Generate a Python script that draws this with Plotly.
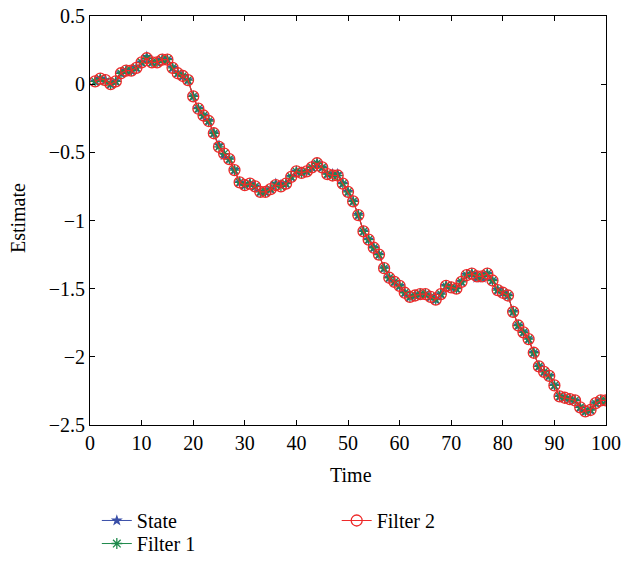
import plotly.graph_objects as go

time = list(range(1, 101))

state = [0.02, 0.04, 0.03, 0.00, 0.02, 0.08, 0.10, 0.10, 0.12, 0.16,
         0.20, 0.16, 0.16, 0.18, 0.18, 0.12, 0.08, 0.06, 0.03, -0.09,
         -0.18, -0.23, -0.27, -0.36, -0.45, -0.52, -0.55, -0.63, -0.72, -0.74,
         -0.73, -0.75, -0.79, -0.79, -0.77, -0.73, -0.74, -0.73, -0.68, -0.64,
         -0.65, -0.64, -0.61, -0.58, -0.61, -0.66, -0.66, -0.66, -0.73, -0.79,
         -0.86, -0.96, -1.08, -1.14, -1.20, -1.25, -1.35, -1.42, -1.45, -1.48,
         -1.53, -1.56, -1.55, -1.54, -1.54, -1.56, -1.58, -1.54, -1.48, -1.49,
         -1.50, -1.45, -1.40, -1.39, -1.42, -1.42, -1.39, -1.44, -1.51, -1.53,
         -1.55, -1.67, -1.77, -1.82, -1.87, -1.97, -2.07, -2.11, -2.14, -2.21,
         -2.29, -2.30, -2.31, -2.32, -2.37, -2.40, -2.39, -2.34, -2.32, -2.32]

filter1 = [0.02, 0.04, 0.02, 0.00, 0.02, 0.08, 0.10, 0.10, 0.12, 0.16,
           0.19, 0.16, 0.16, 0.18, 0.18, 0.12, 0.08, 0.06, 0.03, -0.09,
           -0.18, -0.23, -0.27, -0.36, -0.46, -0.51, -0.55, -0.63, -0.72, -0.74,
           -0.73, -0.75, -0.79, -0.79, -0.77, -0.74, -0.75, -0.73, -0.68, -0.64,
           -0.65, -0.64, -0.61, -0.58, -0.61, -0.66, -0.67, -0.67, -0.73, -0.79,
           -0.86, -0.96, -1.08, -1.14, -1.20, -1.25, -1.35, -1.42, -1.45, -1.48,
           -1.53, -1.56, -1.55, -1.54, -1.54, -1.56, -1.58, -1.54, -1.48, -1.49,
           -1.50, -1.45, -1.40, -1.39, -1.41, -1.41, -1.39, -1.44, -1.51, -1.53,
           -1.55, -1.67, -1.77, -1.82, -1.87, -1.97, -2.07, -2.11, -2.14, -2.21,
           -2.29, -2.30, -2.31, -2.32, -2.37, -2.40, -2.39, -2.34, -2.32, -2.32]

filter2 = [0.02, 0.04, 0.03, 0.00, 0.02, 0.08, 0.10, 0.10, 0.12, 0.16,
           0.19, 0.16, 0.16, 0.18, 0.18, 0.12, 0.08, 0.06, 0.03, -0.09,
           -0.18, -0.23, -0.27, -0.36, -0.46, -0.51, -0.55, -0.63, -0.72, -0.74,
           -0.73, -0.75, -0.79, -0.79, -0.77, -0.74, -0.75, -0.73, -0.68, -0.64,
           -0.65, -0.64, -0.61, -0.58, -0.61, -0.66, -0.67, -0.67, -0.73, -0.79,
           -0.86, -0.96, -1.08, -1.14, -1.20, -1.25, -1.35, -1.42, -1.45, -1.48,
           -1.53, -1.56, -1.55, -1.54, -1.54, -1.56, -1.58, -1.54, -1.48, -1.49,
           -1.50, -1.45, -1.40, -1.39, -1.41, -1.41, -1.39, -1.44, -1.51, -1.53,
           -1.55, -1.67, -1.77, -1.82, -1.87, -1.97, -2.07, -2.11, -2.14, -2.21,
           -2.29, -2.30, -2.31, -2.32, -2.37, -2.40, -2.39, -2.34, -2.32, -2.32]

x_ticks = [0, 10, 20, 30, 40, 50, 60, 70, 80, 90, 100]
y_ticks = [0.5, 0, -0.5, -1, -1.5, -2, -2.5]

FONT = "Liberation Serif"

fig = go.Figure()
fig.add_trace(go.Scatter(
    x=time, y=state, name="State", mode="lines+markers", legend="legend",
    line=dict(color="#3a4fa8", width=1),
    marker=dict(symbol="star", size=9, color="#3a4fa8"),
))
fig.add_trace(go.Scatter(
    x=time, y=filter1, name="Filter 1", mode="lines+markers", legend="legend3",
    line=dict(color="#1f8a4c", width=1),
    marker=dict(symbol="asterisk-open", size=9, line=dict(color="#1f8a4c", width=1.3)),
))
fig.add_trace(go.Scatter(
    x=time, y=filter2, name="Filter 2", mode="lines+markers", legend="legend2",
    line=dict(color="#ee2a2a", width=1.2),
    marker=dict(symbol="circle-open", size=11, line=dict(color="#ee2a2a", width=1.3)),
))

axis_common = dict(
    showline=True, linecolor="black", linewidth=1, mirror="ticks",
    ticks="inside", ticklen=5, tickcolor="black", showgrid=False, zeroline=False,
    ticklabeloverflow="allow",
    tickfont=dict(family=FONT, size=20, color="black"),
)

legend_common = dict(orientation="v", xref="container", yref="container",
                     xanchor="left", yanchor="top",
                     font=dict(family=FONT, size=20), bgcolor="rgba(0,0,0,0)")

fig.update_layout(
    width=613, height=546,
    margin=dict(l=82, r=15, t=8, b=129, autoexpand=False),
    paper_bgcolor="white", plot_bgcolor="white",
    font=dict(family=FONT, size=20, color="black"),
    xaxis=dict(range=[0, 100], tickvals=x_ticks, **axis_common),
    yaxis=dict(range=[-2.5, 0.5], tickvals=y_ticks, **axis_common),
    legend=dict(x=0.1449, y=0.0971, **legend_common),
    legend3=dict(x=0.1449, y=0.0549, **legend_common),
    legend2=dict(x=0.5362, y=0.0971, **legend_common),
    showlegend=True,
    annotations=[
        dict(text="Time", xref="paper", yref="paper", x=0.505, y=-0.1222,
             xanchor="center", yanchor="middle", showarrow=False,
             font=dict(family=FONT, size=20, color="black")),
        dict(text="Estimate", xref="paper", yref="paper", x=-0.1395, y=0.506,
             xanchor="center", yanchor="middle", textangle=-90, showarrow=False,
             font=dict(family=FONT, size=20, color="black")),
    ],
)

fig.write_html("out.html")
